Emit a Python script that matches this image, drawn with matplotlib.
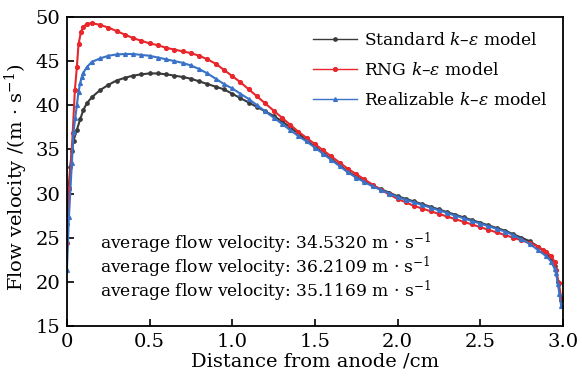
import matplotlib
matplotlib.use("Agg")
import matplotlib.pyplot as plt

# Standard k-e model
x_std = [0, 0.01, 0.02, 0.03, 0.04, 0.06, 0.08, 0.1, 0.12, 0.15, 0.2, 0.25, 0.3, 0.35, 0.4, 0.45,
         0.5, 0.55, 0.6, 0.65, 0.7, 0.75, 0.8, 0.85, 0.9, 0.95, 1.0, 1.05, 1.1, 1.15, 1.2, 1.25,
         1.3, 1.35, 1.4, 1.45, 1.5, 1.55, 1.6, 1.65, 1.7, 1.75, 1.8, 1.85, 1.9, 1.95, 2.0, 2.05,
         2.1, 2.15, 2.2, 2.25, 2.3, 2.35, 2.4, 2.45, 2.5, 2.55, 2.6, 2.65, 2.7, 2.75, 2.8, 2.85,
         2.9, 2.93, 2.95, 2.97, 2.99]
v_std = [26.5, 30.5, 33.0, 34.8, 36.0, 37.2, 38.4, 39.5, 40.2, 40.9, 41.7, 42.3, 42.8, 43.1, 43.35, 43.5,
         43.6, 43.6, 43.5, 43.35, 43.2, 43.0, 42.7, 42.4, 42.1, 41.8, 41.3, 40.8, 40.3, 39.8, 39.3, 38.8,
         38.2, 37.5, 36.8, 36.0, 35.3, 34.6, 33.9, 33.2, 32.5, 31.9, 31.4, 30.9, 30.5, 30.1, 29.7, 29.4,
         29.1, 28.8, 28.5, 28.2, 27.9, 27.6, 27.3, 27.0, 26.7, 26.4, 26.1, 25.8, 25.4, 25.0, 24.6, 24.0,
         23.3, 22.6, 21.8, 20.0, 18.0]

# RNG k-e model
x_rng = [0, 0.015, 0.035, 0.048, 0.06, 0.07, 0.085, 0.1, 0.12, 0.15, 0.2, 0.25, 0.3, 0.35, 0.4, 0.45,
         0.5, 0.55, 0.6, 0.65, 0.7, 0.75, 0.8, 0.85, 0.9, 0.95, 1.0, 1.05, 1.1, 1.15, 1.2, 1.25,
         1.3, 1.35, 1.4, 1.45, 1.5, 1.55, 1.6, 1.65, 1.7, 1.75, 1.8, 1.85, 1.9, 1.95, 2.0, 2.05,
         2.1, 2.15, 2.2, 2.25, 2.3, 2.35, 2.4, 2.45, 2.5, 2.55, 2.6, 2.65, 2.7, 2.75, 2.8, 2.85,
         2.88, 2.9, 2.93, 2.95, 2.96, 2.975, 2.99]
v_rng = [24.4, 30.6, 36.9, 41.7, 44.3, 46.9, 48.3, 48.9, 49.2, 49.3, 49.1, 48.8, 48.4, 48.0, 47.6, 47.3,
         47.0, 46.8, 46.5, 46.3, 46.1, 45.9, 45.6, 45.2, 44.7, 44.0, 43.3, 42.6, 41.8, 41.0, 40.2, 39.4,
         38.6, 37.8, 37.0, 36.3, 35.6, 34.9, 34.2, 33.5, 32.8, 32.2, 31.6, 31.0, 30.4, 29.9, 29.4, 29.0,
         28.6, 28.3, 28.0, 27.7, 27.4, 27.1, 26.8, 26.5, 26.2, 25.9, 25.6, 25.3, 25.0, 24.7, 24.4, 24.0,
         23.6, 23.4, 22.9, 22.3, 21.3, 19.9, 18.2]

# Realizable k-e model
x_rea = [0, 0.012, 0.03, 0.04, 0.05, 0.06, 0.07, 0.08, 0.09, 0.1, 0.12, 0.15, 0.2, 0.25, 0.3, 0.35,
         0.4, 0.45, 0.5, 0.55, 0.6, 0.65, 0.7, 0.75, 0.8, 0.85, 0.9, 0.95, 1.0, 1.05, 1.1, 1.15,
         1.2, 1.25, 1.3, 1.35, 1.4, 1.45, 1.5, 1.55, 1.6, 1.65, 1.7, 1.75, 1.8, 1.85, 1.9, 1.95,
         2.0, 2.05, 2.1, 2.15, 2.2, 2.25, 2.3, 2.35, 2.4, 2.45, 2.5, 2.55, 2.6, 2.65, 2.7, 2.75,
         2.8, 2.85, 2.9, 2.93, 2.95, 2.96, 2.97, 2.98, 2.99]
v_rea = [21.3, 27.3, 33.5, 37.0, 38.5, 40.0, 41.5, 42.5, 43.2, 43.7, 44.3, 44.9, 45.3, 45.6, 45.75, 45.8,
         45.8, 45.7, 45.6, 45.4, 45.2, 45.0, 44.8, 44.5, 44.1, 43.6, 43.0, 42.4, 41.9, 41.3, 40.7, 40.0,
         39.3, 38.6, 37.9, 37.2, 36.5, 35.9, 35.2, 34.5, 33.8, 33.1, 32.4, 31.8, 31.3, 30.8, 30.4, 30.0,
         29.6, 29.3, 29.0, 28.7, 28.4, 28.1, 27.8, 27.5, 27.2, 26.9, 26.6, 26.3, 26.0, 25.7, 25.3, 24.8,
         24.3, 23.6, 22.9, 22.3, 21.5, 21.0, 19.8, 18.6, 17.3]

labels = ["Standard $k$–$\\varepsilon$ model", "RNG $k$–$\\varepsilon$ model",
          "Realizable $k$–$\\varepsilon$ model"]
averages = ["34.5320", "36.2109", "35.1169"]
xticks = [0, 0.5, 1.0, 1.5, 2.0, 2.5, 3.0]
xticklabels = ["0", "0.5", "1.0", "1.5", "2.0", "2.5", "3.0"]
yticks = [15, 20, 25, 30, 35, 40, 45, 50]

plt.rcParams['font.family'] = ['DejaVu Serif']
plt.rcParams['mathtext.fontset'] = 'dejavuserif'

fig = plt.figure(figsize=(5.82, 3.76), dpi=100)
ax = fig.add_axes([0.115, 0.133, 0.852, 0.822])

ax.plot(x_std, v_std, color="#3a3a3a", lw=1.5, marker="o", ms=2.4, label=labels[0])
ax.plot(x_rng, v_rng, color="#e8262b", lw=1.5, marker="o", ms=2.7, label=labels[1])
ax.plot(x_rea, v_rea, color="#3a72c8", lw=1.5, marker="^", ms=2.7, label=labels[2])

ax.set_xlim(0, 3.0)
ax.set_ylim(15, 50)
ax.set_xticks(xticks)
ax.set_xticklabels(xticklabels)
ax.set_yticks(yticks)
ax.tick_params(direction="in", length=5, width=1.2, labelsize=14)
ax.tick_params(axis="x", pad=5)
ax.tick_params(axis="y", pad=5)
for s in ax.spines.values():
    s.set_linewidth(1.3)

ax.set_xlabel("Distance from anode /cm", fontsize=14, labelpad=1)
ax.set_ylabel("Flow velocity /(m · s$^{-1}$)", fontsize=14)
ax.yaxis.set_label_coords(-0.075, 0.48)

leg = ax.legend(loc="upper right", frameon=False, fontsize=12.3, handlelength=2.6,
                handletextpad=0.4, borderaxespad=0.5, labelspacing=0.75)
for h in leg.legend_handles:
    h.set_linewidth(1.0)

ty = [24.3, 21.6, 18.9]
for yy, a in zip(ty, averages):
    ax.text(0.2, yy, "average flow velocity: " + a + " m · s$^{-1}$", fontsize=12.3,
            va="center", ha="left")

fig.savefig("out.png", dpi=100)
